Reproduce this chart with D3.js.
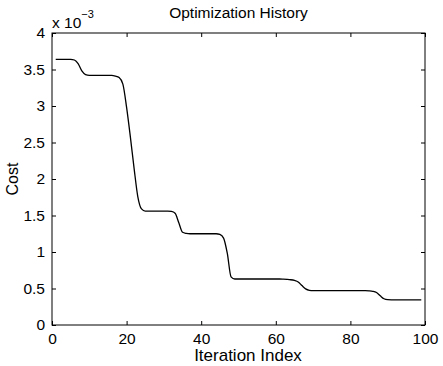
<!DOCTYPE html>
<html>
<head>
<meta charset="utf-8">
<script src="https://cdn.jsdelivr.net/npm/d3@7"></script>
<style>
  body { margin: 0; background: #fff; }
  text { font-family: "Liberation Sans", Arial, sans-serif; fill: #000; }
</style>
</head>
<body>
<div id="container"></div>
<script>
// iteration index and cost (x 1e-3)
var iterations = d3.range(1, 100);
var cost = [
  3.64, 3.64, 3.64, 3.64, 3.64, 3.63, 3.58, 3.48, 3.43, 3.42,   // 1-10
  3.42, 3.42, 3.42, 3.42, 3.42, 3.42, 3.41, 3.39, 3.30, 2.98,   // 11-20
  2.58, 2.15, 1.76, 1.59, 1.56, 1.56, 1.56, 1.56, 1.56, 1.56,   // 21-30
  1.56, 1.555, 1.53, 1.40, 1.27, 1.255, 1.25, 1.25, 1.25, 1.25, // 31-40
  1.25, 1.25, 1.25, 1.25, 1.24, 1.19, 0.98, 0.66, 0.63, 0.63,   // 41-50
  0.63, 0.63, 0.63, 0.63, 0.63, 0.63, 0.63, 0.63, 0.63, 0.63,   // 51-60
  0.63, 0.628, 0.625, 0.62, 0.61, 0.59, 0.54, 0.495, 0.475, 0.47, // 61-70
  0.47, 0.47, 0.47, 0.47, 0.47, 0.47, 0.47, 0.47, 0.47, 0.47,   // 71-80
  0.47, 0.47, 0.47, 0.47, 0.468, 0.462, 0.445, 0.40, 0.36, 0.347, // 81-90
  0.345, 0.345, 0.345, 0.345, 0.345, 0.345, 0.345, 0.345, 0.345 // 91-99
];
var xTicks = [0, 20, 40, 60, 80, 100];
var yTicks = [0, 0.5, 1, 1.5, 2, 2.5, 3, 3.5, 4];

var width = 443, height = 366;
var margin = {top: 33, right: 18, bottom: 41, left: 52};
var w = width - margin.left - margin.right,
    h = height - margin.top - margin.bottom;

var svg = d3.select('#container').append('svg')
  .attr('width', width)
  .attr('height', height);

var g = svg.append('g')
  .attr('transform', 'translate(' + margin.left + ',' + margin.top + ')');

var x = d3.scaleLinear().domain([0, 100]).range([0, w]);
var y = d3.scaleLinear().domain([0, 4]).range([h, 0]);

// box
g.append('rect')
  .attr('width', w).attr('height', h)
  .attr('fill', 'none').attr('stroke', '#000').attr('stroke-width', 1);

var tickLen = 4;
var bottomAxis = g.append('g')
  .attr('transform', 'translate(0,' + h + ')')
  .call(d3.axisBottom(x).tickValues(xTicks).tickSizeInner(-tickLen).tickSizeOuter(0).tickPadding(8));
var topAxis = g.append('g')
  .call(d3.axisTop(x).tickValues(xTicks).tickSizeInner(-tickLen).tickSizeOuter(0).tickFormat(''));
var leftAxis = g.append('g')
  .call(d3.axisLeft(y).tickValues(yTicks).tickSizeInner(-tickLen).tickSizeOuter(0).tickPadding(7)
    .tickFormat(function(d) { return d3.format('~g')(d); }));
var rightAxis = g.append('g')
  .attr('transform', 'translate(' + w + ',0)')
  .call(d3.axisRight(y).tickValues(yTicks).tickSizeInner(-tickLen).tickSizeOuter(0).tickFormat(''));

[bottomAxis, topAxis, leftAxis, rightAxis].forEach(function(a) {
  a.select('.domain').remove();
  a.selectAll('line').attr('stroke', '#000');
  a.selectAll('text').style('font-size', '15.5px').style('font-family', '"Liberation Sans", Arial, sans-serif');
});

// line
var line = d3.line()
  .x(function(d, i) { return x(iterations[i]); })
  .y(function(d) { return y(d); })
  .curve(d3.curveMonotoneX);

g.append('path')
  .datum(cost)
  .attr('d', line)
  .attr('fill', 'none')
  .attr('stroke', '#000')
  .attr('stroke-width', 1.3);

// exponent label
var ex = svg.append('text')
  .attr('x', margin.left)
  .attr('y', 28)
  .style('font-size', '15.5px');
ex.append('tspan').text('x 10');
ex.append('tspan').attr('dy', -10).style('font-size', '11px').text('\u22123');

// title
svg.append('text')
  .attr('x', margin.left + w / 2)
  .attr('y', 18)
  .attr('text-anchor', 'middle')
  .style('font-size', '15.5px')
  .text('Optimization History');

// x label, a bit right of centre as in the source
svg.append('text')
  .attr('x', 248)
  .attr('y', 361)
  .attr('text-anchor', 'middle')
  .style('font-size', '17px')
  .text('Iteration Index');

// y label
svg.append('text')
  .attr('transform', 'translate(18,' + (margin.top + h / 2) + ') rotate(-90)')
  .attr('text-anchor', 'middle')
  .style('font-size', '16px')
  .text('Cost');
</script>
</body>
</html>
